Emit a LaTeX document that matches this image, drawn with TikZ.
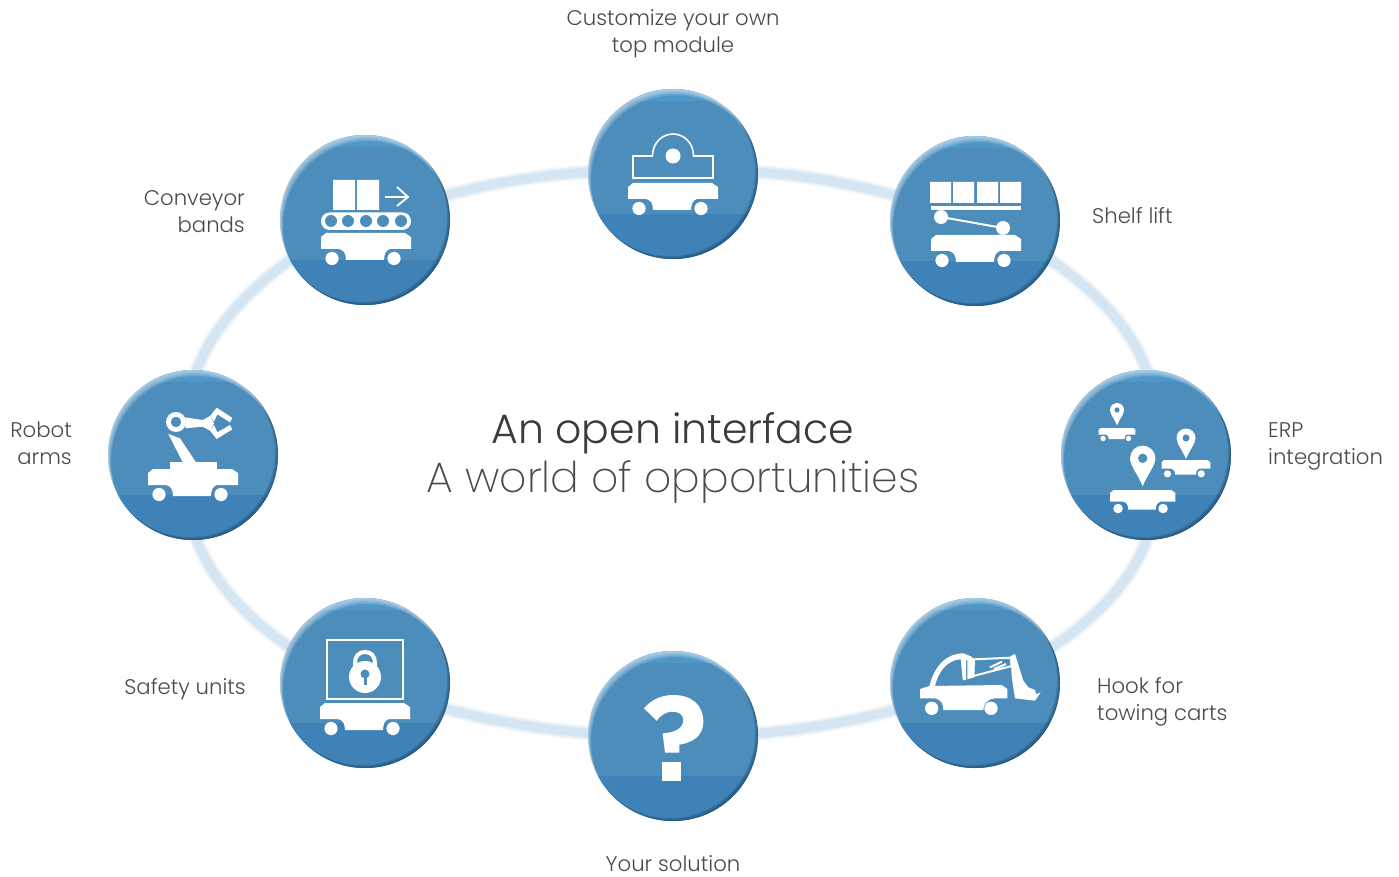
\documentclass[tikz,border=0pt]{standalone}
\usepackage{fontspec}
\setmainfont{Poppins Light}
\newfontfamily\thinfont{Poppins ExtraLight}
\pgfdeclarelayer{ringlayer}
\pgfsetlayers{ringlayer,main}
\definecolor{discmain}{HTML}{4C8DBC}
\definecolor{disclow}{HTML}{3E82B7}
\definecolor{disctop}{HTML}{5097C9}
\definecolor{discdark}{HTML}{1B3C58}
\definecolor{ringblue}{HTML}{D5E5F2}
\definecolor{labelgrey}{HTML}{4A4A4A}
\tikzset{
  discbase/.style={circle,minimum size=170pt,inner sep=0pt,fill=discmain},
  lbl/.style={text=labelgrey,font=\fontsize{21.2}{27}\selectfont,inner sep=0pt},
  lblL/.style={lbl,align=left,anchor=west},
  lblR/.style={lbl,align=right,anchor=east},
  lblC/.style={lbl,align=center,anchor=center},
  thinwhite/.style={draw=white,line width=1.6pt},
  zoomed/.style 2 args={shift={(-#1/3,-#2/3)},scale=1/3}
}
\newcommand{\disc}[3]{%
  \node[discbase] (#1) at (#2,#3) {};
  \begin{scope}[shift={(#2,#3)}]
    \clip (0,0) circle (85);
    \fill[disclow] (-90,40) rectangle (90,90);
    \fill[disctop] (-90,-90) rectangle (90,-73);
    \foreach \t in {.25,.5,.75,1}{
      \fill[white,opacity=.16,even odd rule] (-90,-90) rectangle (90,90) (\t*3,\t*6) circle (85);
      \fill[discdark,opacity=.18,even odd rule] (-90,-90) rectangle (90,90) (-\t*3,-\t*3) circle (85);
    }
  \end{scope}}
\newcommand{\cart}[3]{%
  \begin{scope}[shift={(#1,#2)},scale=#3]
    \fill[white] (-45,4) -- (-40,0) -- (39,0) -- (45,4) -- (45,16) -- (24,16)
      .. controls (20,17) and (18,21) .. (18,27) -- (-20,27)
      .. controls (-20,21) and (-22,17) .. (-27,16) -- (-45,16) -- cycle;
    \fill[white] (-34,25.5) circle (6.6) (28,25.5) circle (6.6);
  \end{scope}}
\newcommand{\pin}[3]{%
  \begin{scope}[shift={(#1,#2)},scale=#3]
    \fill[white] (0,2.2) .. controls (-.35,1.3) and (-1,.6) .. (-1,0)
      .. controls (-1,-.55) and (-.55,-1) .. (0,-1)
      .. controls (.55,-1) and (1,-.55) .. (1,0)
      .. controls (1,.6) and (.35,1.3) .. (0,2.2) -- cycle;
    \fill[discmain] (0,0) circle (.37);
  \end{scope}}
\begin{document}
\begin{tikzpicture}[x=1pt,y=-1pt]
\useasboundingbox (0,0) rectangle (1399,877);
% discs
\disc{topmod}{673}{174}
\disc{conveyor}{365}{220}
\disc{shelf}{975}{221}
\disc{robot}{193}{455}
\disc{erp}{1146}{455}
\disc{safety}{365}{683}
\disc{hook}{975}{683}
\disc{solution}{673}{736}
% ring
\begin{pgfonlayer}{ringlayer}
\foreach \w/\o in {15/.25,12/.45,9/1}{
  \draw[ringblue,line width=\w pt,opacity=\o]
    (topmod.center) .. controls (773,163) and (880,186) .. (shelf.center)
    .. controls (1045,245) and (1190,340) .. (erp.center)
    .. controls (1190,570) and (1045,665) .. (hook.center)
    .. controls (880,722) and (773,738) .. (solution.center)
    .. controls (573,738) and (460,720) .. (safety.center)
    .. controls (294,665) and (159,570) .. (robot.center)
    .. controls (159,340) and (294,245) .. (conveyor.center)
    .. controls (460,186) and (573,163) .. (topmod.center);
}
\end{pgfonlayer}
% top module icon
\begin{scope}[shift={(topmod.center)}]
  \draw[thinwhite] (-40,4) -- (-40,-18) -- (-20.5,-18)
    .. controls (-20.5,-31) and (-11,-40) .. (0,-40)
    .. controls (11,-40) and (20.5,-31) .. (20.5,-18)
    -- (40,-18) -- (40,4) -- cycle;
  \fill[white] (0,-18) circle (7.5);
  \cart{0}{9}{1}
\end{scope}
% conveyor icon
\begin{scope}[shift={(conveyor.center)}]
  \fill[white] (-32,-40) rectangle (-10,-10) (-8,-40) rectangle (14,-10);
  \draw[white,line width=1.9pt] (20,-23) -- (43,-23) (32,-33) -- (43,-23) -- (32,-14);
  \fill[white,rounded corners=8.5pt] (-44,-7.5) rectangle (46,10);
  \foreach \x in {-34,-17,1,18,36}{\fill[discmain] (\x,1) circle (6);}
  \cart{1}{13}{1}
\end{scope}
% shelf icon
\begin{scope}[shift={(shelf.center)}]
  \fill[white] (-45,-39) rectangle (-24,-18) (-22,-39) rectangle (-1,-18)
    (2,-39) rectangle (23,-18) (25,-39) rectangle (46,-18);
  \fill[white] (-44,-15) rectangle (46,-11);
  \draw[white,line width=2pt] (-34,-4) -- (28,7);
  \fill[white] (-34,-4) circle (7) (28,7) circle (7);
  \cart{1}{14}{1}
\end{scope}
% robot icon
\begin{scope}[shift={(robot.center)}]
  \cart{0}{14}{1}
  \fill[white] (-23,7) rectangle (24,15);
\end{scope}
\begin{scope}[shift={(robot.center)},zoomed={279}{285}]
  \fill[white] (205,222) -- (240,235) -- (290,310) -- (250,310) -- cycle;
  \fill[white,even odd rule] (228,186) circle (30) (228,186) circle (16);
  \fill[white] (256,172) -- (308,180) -- (330,168) -- (342,190) -- (330,212) -- (308,200) -- (256,205) -- cycle;
  \fill[white] (330,168) -- (350,143) -- (397,174) -- (390,187) -- (352,163) -- (342,185) -- cycle;
  \fill[white] (330,212) -- (350,237) -- (397,208) -- (390,195) -- (352,217) -- (342,195) -- cycle;
\end{scope}
% erp icon
\begin{scope}[shift={(erp.center)}]
  \cart{-3.3}{35}{.726}
  \cart{40}{5}{.544}
  \cart{-29}{-27}{.41}
  \pin{-3.3}{3.3}{12.7}
  \pin{40}{-17}{9.5}
  \pin{-29}{-45}{7}
\end{scope}
% safety icon
\begin{scope}[shift={(safety.center)}]
  \draw[thinwhite] (-38,-43) rectangle (38,16);
  \draw[white,line width=4pt] (-10,-14) -- (-10,-20)
    .. controls (-10,-27) and (-6,-31) .. (0,-31)
    .. controls (6,-31) and (10,-27) .. (10,-20) -- (10,-14);
  \fill[white] (0,-6) circle (16);
  \fill[discmain] (0,-9) circle (4.5);
  \fill[discmain] (-1.5,-8) rectangle (1.5,2);
  \cart{0}{20}{1}
\end{scope}
% hook icon
\begin{scope}[shift={(hook.center)},zoomed={285}{279}]
  \fill[white] (120,297) -- (148,288) -- (365,285) -- (382,297) -- (382,325) -- (345,325)
    .. controls (318,328) and (310,345) .. (310,360) -- (190,360)
    .. controls (190,345) and (185,328) .. (165,325) -- (120,325) -- cycle;
  \fill[white] (148,290) .. controls (160,235) and (195,190) .. (250,190)
    -- (275,200) -- (275,212) -- (240,208)
    .. controls (200,212) and (175,245) .. (165,288) -- cycle;
  \fill[white] (242,205) -- (258,205) -- (258,270) -- (248,270) -- cycle;
  \fill[white] (262,200) -- (282,204) -- (282,262) -- (262,268) -- cycle;
  \draw[white,line width=2pt] (282,208) -- (392,203) -- (395,228) -- (280,258) -- cycle;
  \fill[white] (392,198) -- (405,192) -- (430,272) -- (445,292) -- (465,300) -- (468,312) -- (482,308) -- (465,332) -- (405,325) -- (395,260) -- cycle;
  \draw[white,line width=2pt] (330,232) -- (366,215) (342,237) -- (378,222);
  \fill[white] (155,355) circle (20) (333,355) circle (20);
\end{scope}
% question icon
\begin{scope}[shift={(solution.center)},zoomed={1209}{438}]
  \fill[white] (1122,355) .. controls (1145,328) and (1175,315) .. (1210,315)
    .. controls (1265,315) and (1300,345) .. (1300,395)
    .. controls (1300,440) and (1265,458) .. (1228,464)
    -- (1228,488) -- (1185,488) -- (1178,430)
    .. controls (1215,428) and (1240,415) .. (1240,390)
    .. controls (1240,372) and (1225,365) .. (1205,365)
    .. controls (1190,365) and (1172,375) .. (1160,392) -- cycle;
  \fill[white] (1175,516) rectangle (1233,574);
\end{scope}
% labels
\node[lblC] (lbltop) at (673,34) {Customize your own\\top module};
\node[lblR] (lblconv) at (245,212) {Conveyor\\bands};
\node[lblL] (lblshelf) at (1092,216) {Shelf lift};
\node[lblL] (lblerp) at (1268,446) {ERP\\integration};
\node[lblR] (lblrobot) at (72,443) {Robot\\arms};
\node[lblR] (lblsafety) at (246,689) {Safety units};
\node[lblL] (lblhook) at (1097,702) {Hook for\\towing carts};
\node[lbl] (lblsol) at (673,864) {Your solution};
\node[text=labelgrey!80!black,font=\fontsize{41}{48}\selectfont,inner sep=0pt] (title1) at (673,433) {An open interface};
\node[text=labelgrey,font=\thinfont\fontsize{42.5}{48}\selectfont,inner sep=0pt] (title2) at (673,482) {A world of opportunities};
\end{tikzpicture}
\end{document}
